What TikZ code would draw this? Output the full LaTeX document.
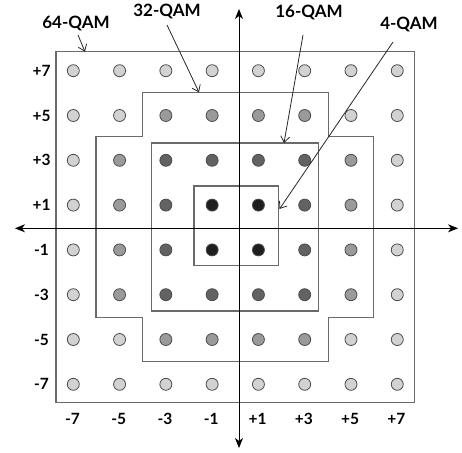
\documentclass[tikz,border=0pt]{standalone}
\usepackage{fontspec}
\setmainfont{Lato}
\usetikzlibrary{arrows.meta}
\definecolor{qam0}{HTML}{D2D2D2}
\definecolor{qam1}{HTML}{9A9A9A}
\definecolor{qam2}{HTML}{626262}
\definecolor{qam3}{HTML}{1E1E1E}
\definecolor{boxgray}{HTML}{6A6A6A}
\begin{document}
\begin{tikzpicture}[x=1pt,y=-1pt,
  dot/.style={circle,draw=black!70,line width=0.8pt,minimum size=12pt,inner sep=0pt},
  regionbox/.style={draw=boxgray,line width=1.3pt},
  axisline/.style={draw=black,line width=0.9pt,-{Stealth[length=10pt,width=8pt,inset=3pt]}},
  qamlabel/.style={font=\fontsize{17}{20}\selectfont\bfseries,inner sep=0pt},
  ticklabel/.style={font=\fontsize{15.5}{18}\selectfont\bfseries,inner sep=0pt},
  pointer/.style={draw=black!85,line width=0.8pt,-{Straight Barb[length=6pt,width=9pt]}}]
\useasboundingbox (0,0) rectangle (462,452);
% outer 64-QAM box
\draw[regionbox] (56,51.7) rectangle (414.7,402.3);
% 32-QAM cross shape
\draw[regionbox] (142.7,92.3) -- (328.3,92.3) -- (328.3,136.5) -- (373.3,136.5) -- (373.3,317.7)
  -- (328.3,317.7) -- (328.3,361.5) -- (142.7,361.5) -- (142.7,317.7) -- (96,317.7)
  -- (96,136.5) -- (142.7,136.5) -- cycle;
% 16-QAM box
\draw[regionbox] (151.7,143) rectangle (318.3,311);
% 4-QAM box
\draw[regionbox] (194,186) rectangle (278.7,265.7);
% axes
\coordinate (xl) at (15,228.3);
\coordinate (xr) at (458,228.3);
\coordinate (yt) at (239,9);
\coordinate (yb) at (239,448);
\coordinate (o) at (239,228.3);
\draw[axisline] (o) -- (xl);
\draw[axisline] (o) -- (xr);
\draw[axisline] (o) -- (yt);
\draw[axisline] (o) -- (yb);
% constellation points
\foreach \n in {0,...,7}{
  \foreach \m in {0,...,7}{
    \pgfmathtruncatemacro\ax{abs(2*\n-7)}
    \pgfmathtruncatemacro\ay{abs(2*\m-7)}
    \pgfmathtruncatemacro\cat{(\ax<=1 && \ay<=1) ? 3 : ((\ax<=3 && \ay<=3) ? 2 : (((\ax<=3 && \ay<=5) || (\ax<=5 && \ay<=3)) ? 1 : 0))}
    \node[dot,fill=qam\cat] (d\n\m) at ({73.3+46.28*\n},{70.7+44.8*\m}) {};
  }
}
% tick labels
\foreach \t [count=\k from 0] in {+7,+5,+3,+1,-1,-3,-5,-7}{
  \node[ticklabel] (yl\k) at (41.5,{70.7+44.8*\k}) {\t};
}
\foreach \t [count=\k from 0] in {-7,-5,-3,-1,+1,+3,+5,+7}{
  \node[ticklabel] (xl\k) at ({72.5+46.28*\k},419) {\t};
}
% labels with pointers
\node[qamlabel] (l64) at (76,23) {64-QAM};
\node[qamlabel] (l32) at (167,11.5) {32-QAM};
\node[qamlabel] (l16) at (309,12) {16-QAM};
\node[qamlabel] (l4) at (409,24) {4-QAM};
\coordinate (s64) at (78,35);
\coordinate (s32) at (167,25);
\coordinate (s16) at (303,35);
\coordinate (s4) at (393,42);
\coordinate (t64) at (85,51.7);
\coordinate (t32) at (199,92.3);
\coordinate (t16) at (284,143);
\coordinate (t4) at (279.5,209);
\draw[pointer] (s64) -- (t64);
\draw[pointer] (s32) -- (t32);
\draw[pointer] (s16) -- (t16);
\draw[pointer] (s4) -- (t4);
\end{tikzpicture}
\end{document}
